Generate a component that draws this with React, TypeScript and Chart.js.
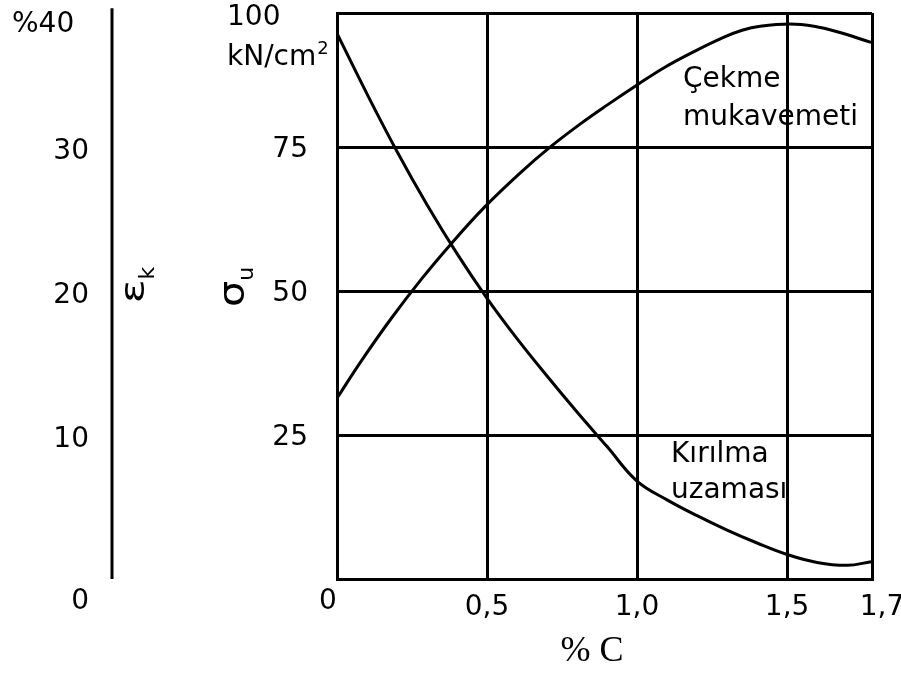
import React, { useEffect, useRef } from "react";
import { Chart, registerables } from "chart.js";

Chart.register(...registerables);

// ---- data ----
const xMax = 1.783; // right frame edge (labelled 1,7)
const sigmaMax = 98.3; // top frame edge (labelled 100)

const xTickValues = [0, 0.5, 1.0, 1.5, 1.7];
const xTickLabels = ["0", "0,5", "1,0", "1,5", "1,7"];

const sigmaTickValues = [25, 50, 75, 100];
const sigmaTickLabels = ["25", "50", "75", "100"];

const epsTickValues = [0, 10, 20, 30, 40];
const epsTickLabels = ["0", "10", "20", "30", "%40"];

// Çekme mukavemeti (kN/cm²)
const tensileCarbon = [0, 0.08, 0.18, 0.28, 0.38, 0.49, 0.61, 0.71, 0.81, 0.9, 1.0, 1.09, 1.19, 1.29, 1.35, 1.41, 1.51, 1.59, 1.67, 1.78];
const tensileStrength = [31.4, 37.8, 45.2, 52.0, 58.2, 64.5, 70.5, 75.0, 79.0, 82.3, 85.8, 88.8, 91.6, 94.1, 95.3, 96.0, 96.4, 96.0, 95.0, 93.2];

// Kırılma uzaması (%)
const elongCarbon = [0, 0.1, 0.2, 0.3, 0.4, 0.5, 0.6, 0.7, 0.8, 0.9, 1.0, 1.1, 1.2, 1.3, 1.4, 1.5, 1.6, 1.7, 1.78];
const elongation = [37.9, 33.7, 29.7, 26.0, 22.6, 19.5, 16.7, 14.1, 11.6, 9.2, 6.8, 5.5, 4.4, 3.4, 2.5, 1.7, 1.15, 0.95, 1.2];

const tensileLabel = ["Çekme", "mukavemeti"];
const elongLabel = ["Kırılma", "uzaması"];

const SANS = '"DejaVu Sans", Verdana, sans-serif';

function drawRotatedSub(
  ctx: CanvasRenderingContext2D,
  baseX: number,
  cy: number,
  main: string,
  sub: string,
  mainFont: string,
  subFont: string,
  subShift: number,
  stretch: number
) {
  ctx.save();
  ctx.font = mainFont;
  const w1 = ctx.measureText(main).width * stretch;
  ctx.font = subFont;
  const w2 = ctx.measureText(sub).width;
  const total = w1 + w2;
  ctx.translate(baseX, cy);
  ctx.rotate(-Math.PI / 2);
  ctx.textAlign = "left";
  ctx.textBaseline = "alphabetic";
  ctx.save();
  ctx.translate(-total / 2, 0);
  ctx.scale(stretch, 1);
  ctx.font = mainFont;
  ctx.fillText(main, 0, 0);
  ctx.restore();
  ctx.font = subFont;
  ctx.fillText(sub, -total / 2 + w1, subShift);
  ctx.restore();
}

const labelsPlugin = {
  id: "customLabels",
  afterDraw(chart: any) {
    const ctx: CanvasRenderingContext2D = chart.ctx;
    const { top, bottom, left } = chart.chartArea;
    const xs = chart.scales.x;
    const ys = chart.scales.y;
    const y2 = chart.scales.y2;
    ctx.save();
    ctx.fillStyle = "#000";
    ctx.strokeStyle = "#000";

    // left elongation axis line
    ctx.lineWidth = 3;
    ctx.beginPath();
    ctx.moveTo(112, y2.getPixelForValue(40) + 5);
    ctx.lineTo(112, bottom);
    ctx.stroke();

    const F = "28px " + SANS;
    ctx.font = F;
    ctx.textBaseline = "middle";

    // elongation tick labels
    epsTickValues.forEach((v, i) => {
      let py = y2.getPixelForValue(v) + 5;
      if (v === 0) py = bottom + 23;
      if (py < top + 12) py = top + 12;
      if (i === epsTickValues.length - 1) {
        ctx.textAlign = "left";
        ctx.fillText(epsTickLabels[i], 12, py);
      } else {
        ctx.textAlign = "right";
        ctx.fillText(epsTickLabels[i], 89, py);
      }
    });

    // sigma tick labels
    sigmaTickValues.forEach((v, i) => {
      let py = ys.getPixelForValue(v) + 3;
      if (i === sigmaTickValues.length - 1) {
        py = Math.max(py, top + 5);
        ctx.textAlign = "left";
        ctx.fillText(sigmaTickLabels[i], 227, py);
      } else {
        ctx.textAlign = "right";
        ctx.fillText(sigmaTickLabels[i], 308, py);
      }
    });
    // unit
    ctx.textAlign = "left";
    ctx.font = F;
    const unitMain = "kN/cm";
    const uw = ctx.measureText(unitMain).width;
    ctx.fillText(unitMain, 227, top + 45);
    ctx.font = "18px " + SANS;
    ctx.fillText("2", 227 + uw + 1, top + 36);

    // x tick labels
    ctx.font = F;
    ctx.textAlign = "center";
    xTickValues.forEach((v, i) => {
      let px = xs.getPixelForValue(v);
      let py = bottom + 29;
      if (v === 0) {
        px = left - 9;
        py = bottom + 23;
      }
      if (i === xTickValues.length - 1) px = xs.getPixelForValue(xMax) + 10;
      ctx.fillText(xTickLabels[i], px, py);
    });

    // x title
    ctx.font = '36px "Liberation Serif", "Times New Roman", serif';
    ctx.textAlign = "center";
    ctx.fillText("% C", 592, bottom + 73);

    // y titles (rotated)
    drawRotatedSub(ctx, 144, 285, "ε", "k", "34px " + SANS, "22px " + SANS, 10, 1.3);
    drawRotatedSub(ctx, 244, 287, "σ", "u", "36px " + SANS, "22px " + SANS, 9, 1.15);

    // curve annotations
    ctx.font = F;
    ctx.textAlign = "left";
    ctx.fillText(tensileLabel[0], 683, 80);
    ctx.fillText(tensileLabel[1], 683, 118);
    ctx.fillText(elongLabel[0], 671, 455);
    ctx.fillText(elongLabel[1], 671, 491);

    ctx.restore();
  },
};

export default function App() {
  const ref = useRef<HTMLCanvasElement | null>(null);

  useEffect(() => {
    if (!ref.current) return;
    const tensileData = tensileCarbon.map((c, i) => ({ x: c, y: tensileStrength[i] }));
    const elongData = elongCarbon.map((c, i) => ({ x: c, y: elongation[i] }));
    const gridOpts = { color: "#000", lineWidth: 3, drawTicks: false };
    const chart = new Chart(ref.current, {
      type: "line",
      data: {
        datasets: [
          {
            label: "Çekme mukavemeti",
            data: tensileData,
            yAxisID: "y",
            borderColor: "#000",
            borderWidth: 3,
            pointRadius: 0,
            tension: 0.4,
            fill: false,
          },
          {
            label: "Kırılma uzaması",
            data: elongData,
            yAxisID: "y2",
            borderColor: "#000",
            borderWidth: 3,
            pointRadius: 0,
            tension: 0.4,
            fill: false,
          },
        ],
      },
      options: {
        animation: false,
        responsive: false,
        devicePixelRatio: 1,
        layout: { padding: { left: 337, top: 13, right: 29, bottom: 95 } },
        plugins: { legend: { display: false }, tooltip: { enabled: false } },
        scales: {
          x: {
            type: "linear",
            min: 0,
            max: xMax,
            afterBuildTicks: (s: any) => {
              s.ticks = [0, 0.5, 1.0, 1.5, xMax].map((v) => ({ value: v }));
            },
            ticks: { display: false },
            grid: gridOpts,
            border: { display: true, color: "#000", width: 3 },
          },
          y: {
            type: "linear",
            min: 0,
            max: sigmaMax,
            afterBuildTicks: (s: any) => {
              s.ticks = [0, 25, 50, 75, sigmaMax].map((v) => ({ value: v }));
            },
            ticks: { display: false },
            grid: gridOpts,
            border: { display: true, color: "#000", width: 3 },
          },
          y2: {
            type: "linear",
            display: false,
            min: 0,
            max: sigmaMax / 2.5,
          },
        },
      } as any,
      plugins: [labelsPlugin],
    });
    return () => chart.destroy();
  }, []);

  return (
    <div style={{ position: "fixed", left: 0, top: 0, width: 901, height: 674, background: "#fff" }}>
      <canvas ref={ref} width={901} height={674} style={{ display: "block" }} />
    </div>
  );
}
